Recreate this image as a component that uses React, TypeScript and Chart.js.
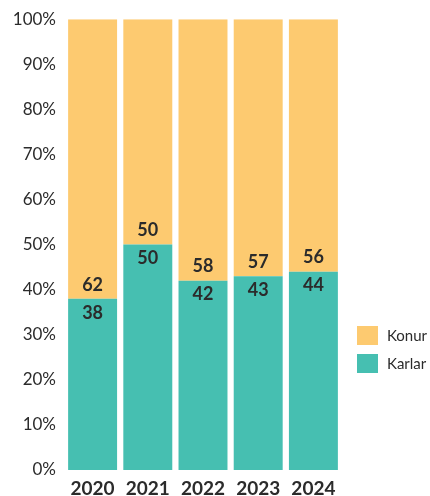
import React, { useEffect, useRef } from "react";
import { Chart, registerables } from "chart.js";

Chart.register(...registerables);

const years = ["2020", "2021", "2022", "2023", "2024"];
const karlar = [38, 50, 42, 43, 44];
const konur = [62, 50, 58, 57, 56];
const yTicks = [0, 10, 20, 30, 40, 50, 60, 70, 80, 90, 100];

const FONT = "Lato, 'Noto Sans', sans-serif";
const TEAL = "#46BFB1";
const YELLOW = "#FDCA70";
const TEXT = "#2b2b2b";

const labelPlugin = {
  id: "barLabels",
  afterDatasetsDraw(chart: any) {
    const ctx = chart.ctx;
    ctx.save();
    ctx.font = `bold 18px ${FONT}`;
    ctx.fillStyle = TEXT;
    ctx.textAlign = "center";
    ctx.textBaseline = "middle";
    chart.data.datasets.forEach((ds: any, di: number) => {
      const meta = chart.getDatasetMeta(di);
      meta.data.forEach((bar: any, i: number) => {
        const v = ds.data[i];
        if (di === 0) {
          ctx.fillText(String(v), bar.x, bar.y + 14);
        } else {
          ctx.fillText(String(v), bar.x, bar.base - 14);
        }
      });
    });
    ctx.restore();
  },
};

const legendPlugin = {
  id: "sideLegend",
  afterDraw(chart: any) {
    const ctx = chart.ctx;
    const area = chart.chartArea;
    const items = [...chart.data.datasets].reverse();
    ctx.save();
    ctx.font = `15px ${FONT}`;
    ctx.textAlign = "left";
    ctx.textBaseline = "middle";
    const x = area.right + 16;
    let y = 326;
    items.forEach((ds: any) => {
      ctx.fillStyle = ds.backgroundColor;
      ctx.fillRect(x, y, 21, 19);
      ctx.fillStyle = TEXT;
      ctx.fillText(ds.label, x + 30, y + 10);
      y += 28;
    });
    ctx.restore();
  },
};

export default function App() {
  const ref = useRef<HTMLCanvasElement>(null);
  useEffect(() => {
    document.body.style.margin = "0";
    const chart = new Chart(ref.current!, {
      type: "bar",
      data: {
        labels: years,
        datasets: [
          { label: "Karlar", data: karlar, backgroundColor: TEAL },
          { label: "Konur", data: konur, backgroundColor: YELLOW },
        ],
      },
      options: {
        responsive: false,
        animation: false,
        layout: { padding: { top: 10, right: 89, left: 10, bottom: 0 } },
        datasets: {
          bar: { categoryPercentage: 1, barPercentage: 0.887 },
        },
        plugins: {
          legend: { display: false },
          tooltip: { enabled: false },
        },
        scales: {
          x: {
            stacked: true,
            grid: { display: false, drawTicks: false },
            border: { display: false },
            afterFit(scale: any) {
              scale.height = 26;
            },
            ticks: {
              color: TEXT,
              font: { family: FONT, size: 19, weight: "bold" },
              padding: 7,
            },
          },
          y: {
            stacked: true,
            min: 0,
            max: 100,
            grid: { display: false, drawTicks: false },
            border: { display: false },
            afterFit(scale: any) {
              scale.width = 55;
            },
            afterBuildTicks(scale: any) {
              scale.ticks = yTicks.map((v) => ({ value: v }));
            },
            ticks: {
              color: TEXT,
              font: { family: FONT, size: 17 },
              padding: 9,
              callback: (v: any) => `${v}%`,
            },
          },
        },
      },
      plugins: [labelPlugin, legendPlugin],
    });
    return () => chart.destroy();
  }, []);
  return <canvas ref={ref} width={430} height={496} style={{ display: "block" }} />;
}
